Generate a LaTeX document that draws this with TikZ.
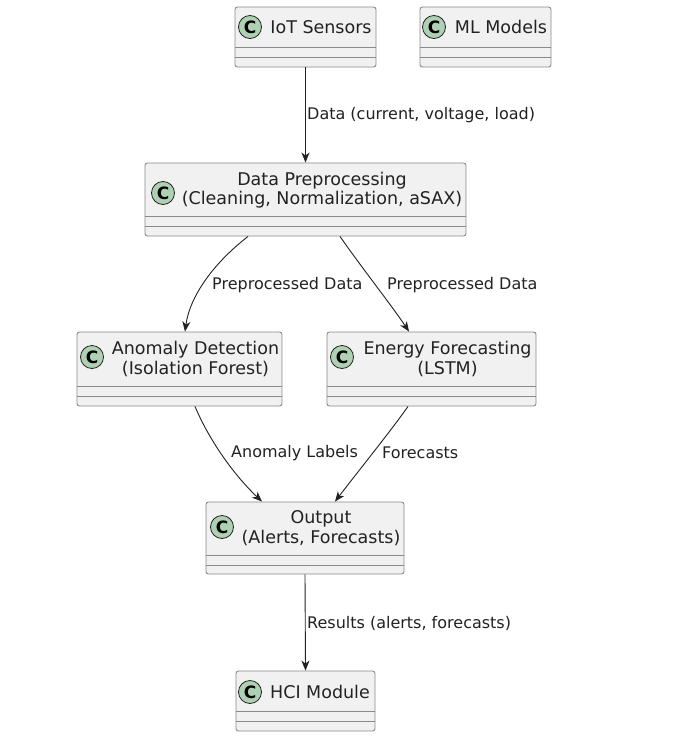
\documentclass[tikz,border=0pt]{standalone}
\usepackage{fontspec}
\setmainfont{DejaVu Sans}
\usetikzlibrary{arrows.meta}
\definecolor{boxfill}{HTML}{F1F1F1}
\definecolor{boxline}{HTML}{8A8A8A}
\definecolor{circfill}{HTML}{ADD1B2}
\definecolor{inkc}{HTML}{222222}
\tikzset{
  classbox/.style={draw=boxline, fill=boxfill, line width=0.9pt, rounded corners=2.5pt, inner sep=0pt},
  sepline/.style={draw=boxline, line width=0.9pt},
  cmark/.style={circle, draw=inkc, fill=circfill, line width=0.8pt, minimum size=23pt, inner sep=0pt, font=\fontsize{17}{17}\selectfont\bfseries, text=black},
  cname/.style={align=center, inner sep=0pt, font=\fontsize{17.5}{19.5}\selectfont, text=inkc},
  elabel/.style={anchor=west, inner sep=0pt, font=\fontsize{16}{18}\selectfont, text=inkc},
  arr/.style={draw=inkc, line width=0.9pt, -{Stealth[length=10pt,width=8pt,inset=3pt]}},
}
\begin{document}
\begin{tikzpicture}[x=1pt,y=-1pt]
\useasboundingbox[fill=white] (0,0) rectangle (678,747);
% IoT Sensors
\node[classbox, minimum width=141pt, minimum height=60pt] (iot) at (305.5,37) {};
\draw[sepline] (235,47) -- (376,47) (235,57) -- (376,57);
\node[cmark] (iotc) at (250,27) {C};
\node[cname] (iott) at (321,27) {IoT Sensors};
% ML Models
\node[classbox, minimum width=131pt, minimum height=60pt] (ml) at (485.5,37) {};
\draw[sepline] (420,47) -- (551,47) (420,57) -- (551,57);
\node[cmark] (mlc) at (434,27) {C};
\node[cname] (mlt) at (501,27) {ML Models};
% Data Preprocessing
\node[classbox, minimum width=321pt, minimum height=73pt] (pre) at (305.5,199.5) {};
\draw[sepline] (145,216) -- (466,216) (145,226) -- (466,226);
\node[cmark] (prec) at (163,193) {C};
\node[cname] (pret) at (322,190) {Data Preprocessing\\(Cleaning, Normalization, aSAX)};
% Anomaly Detection
\node[classbox, minimum width=205pt, minimum height=74pt] (ano) at (179.5,369) {};
\draw[sepline] (77,386) -- (282,386) (77,396) -- (282,396);
\node[cmark] (anoc) at (92,357) {C};
\node[cname] (anot) at (195.5,359) {Anomaly Detection\\(Isolation Forest)};
% Energy Forecasting
\node[classbox, minimum width=209pt, minimum height=74pt] (ene) at (431.5,369) {};
\draw[sepline] (327,386) -- (536,386) (327,396) -- (536,396);
\node[cmark] (enec) at (342,357) {C};
\node[cname] (enet) at (447.5,359) {Energy Forecasting\\(LSTM)};
% Output
\node[classbox, minimum width=198pt, minimum height=72pt] (out) at (305,538) {};
\draw[sepline] (206,555) -- (404,555) (206,565) -- (404,565);
\node[cmark] (outc) at (222,527) {C};
\node[cname] (outt) at (321,528) {Output\\(Alerts, Forecasts)};
% HCI Module
\node[classbox, minimum width=139pt, minimum height=60pt] (hci) at (305.5,701) {};
\draw[sepline] (236,711) -- (375,711) (236,721) -- (375,721);
\node[cmark] (hcic) at (250,692) {C};
\node[cname] (hcit) at (320,692) {HCI Module};
% connectors
\draw[arr] (iot.south) -- (pre.north);
\draw[arr] ([xshift=-57.5pt]pre.south) .. controls (215,262) and (190,295) .. ([xshift=5.5pt]ano.north);
\draw[arr] ([xshift=34.5pt]pre.south) .. controls (362,268) and (392,306) .. ([xshift=-22.5pt]ene.north);
\draw[arr] ([xshift=15.5pt]ano.south) .. controls (210,442) and (235,476) .. ([xshift=-43pt]out.north);
\draw[arr] ([xshift=-23.5pt]ene.south) .. controls (390,432) and (356,474) .. ([xshift=30pt]out.north);
\draw[arr] (out.south) -- (hci.north);
% labels
\node[elabel] (l1) at (307,115) {Data (current, voltage, load)};
\node[elabel] (l2) at (212,285) {Preprocessed Data};
\node[elabel] (l3) at (387,285) {Preprocessed Data};
\node[elabel] (l4) at (231,453) {Anomaly Labels};
\node[elabel] (l5) at (382,453) {Forecasts};
\node[elabel] (l6) at (307,623) {Results (alerts, forecasts)};
\end{tikzpicture}
\end{document}
